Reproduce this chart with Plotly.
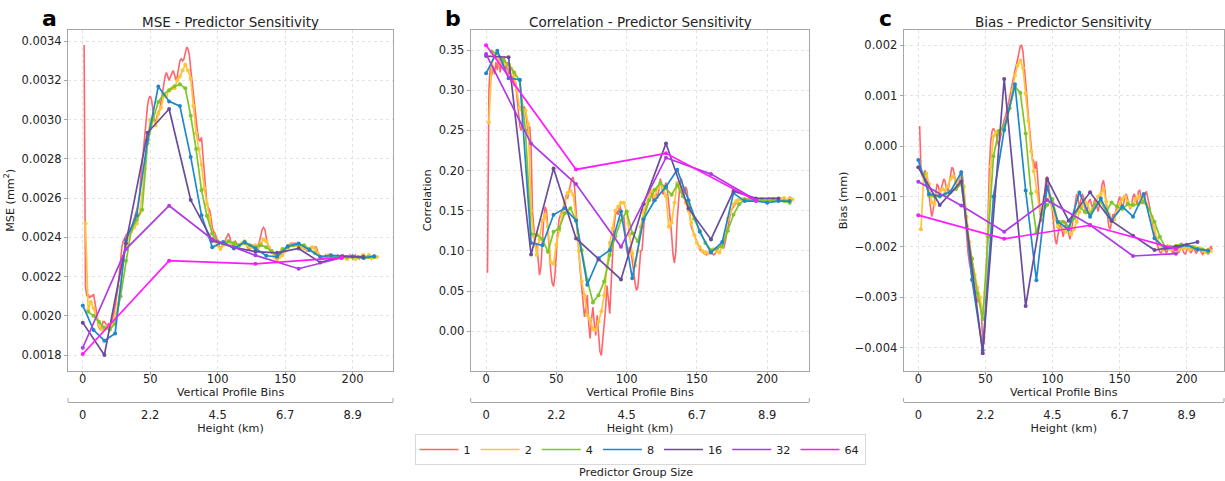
import plotly.graph_objects as go

# ---------------- data ----------------
GROUP_SIZES = [1, 2, 4, 8, 16, 32, 64]
GROUP_LABELS = ["1", "2", "4", "8", "16", "32", "64"]
X_START = [1, 2, 4, 0, 0, 0, 0]
X_END = [219, 218, 216, 216, 208, 192, 192]
HEIGHT_TICKS = [0, 50, 100, 150, 200]
HEIGHT_LABELS = ["0", "2.2", "4.5", "6.7", "8.9"]

MSE_1 = [
    0.00338, 0.00215, 0.00210, 0.00211, 0.00209, 0.00210, 0.00210, 0.00211, 0.00207, 0.00202,
    0.00197, 0.00194, 0.00193, 0.00194, 0.00197, 0.00197, 0.00196, 0.00195, 0.00196, 0.00195,
    0.00196, 0.00198, 0.00201, 0.00205, 0.00209, 0.00214, 0.00221, 0.00229, 0.00235, 0.00238,
    0.00240, 0.00241, 0.00242, 0.00243, 0.00244, 0.00245, 0.00247, 0.00249, 0.00251, 0.00254,
    0.00257, 0.00262, 0.00270, 0.00278, 0.00286, 0.00294, 0.00301, 0.00307, 0.00311, 0.00312,
    0.00310, 0.00304, 0.00300, 0.00299, 0.00302, 0.00304, 0.00305, 0.00309, 0.00314, 0.00319,
    0.00322, 0.00324, 0.00322, 0.00320, 0.00322, 0.00324, 0.00325, 0.00323, 0.00320, 0.00322,
    0.00327, 0.00330, 0.00331, 0.00330, 0.00331, 0.00335, 0.00337, 0.00336, 0.00333, 0.00326,
    0.00319, 0.00312, 0.00306, 0.00300, 0.00294, 0.00290, 0.00289, 0.00291, 0.00282, 0.00270,
    0.00262, 0.00257, 0.00255, 0.00254, 0.00250, 0.00245, 0.00243, 0.00242, 0.00240, 0.00238,
    0.00236, 0.00234, 0.00235, 0.00236, 0.00237, 0.00239, 0.00241, 0.00242, 0.00240, 0.00237,
    0.00236, 0.00237, 0.00238, 0.00237, 0.00236, 0.00235, 0.00236, 0.00237, 0.00238, 0.00238,
    0.00237, 0.00235, 0.00234, 0.00234, 0.00235, 0.00236, 0.00235, 0.00234, 0.00235, 0.00236,
    0.00238, 0.00241, 0.00244, 0.00245, 0.00244, 0.00240, 0.00236, 0.00234, 0.00233, 0.00232,
    0.00232, 0.00231, 0.00229, 0.00228, 0.00229, 0.00230, 0.00231, 0.00232, 0.00233, 0.00234,
    0.00235, 0.00236, 0.00236, 0.00237, 0.00237, 0.00237, 0.00237, 0.00237, 0.00236, 0.00236,
    0.00236, 0.00235, 0.00235, 0.00234, 0.00234, 0.00233, 0.00233, 0.00234, 0.00235, 0.00235,
    0.00235, 0.00235, 0.00235, 0.00233, 0.00231, 0.00230, 0.00230, 0.00229, 0.00230, 0.00231,
    0.00230, 0.00229, 0.00230, 0.00231, 0.00230, 0.00229, 0.00230, 0.00230, 0.00231, 0.00230,
    0.00229, 0.00230, 0.00231, 0.00230, 0.00229, 0.00230, 0.00230, 0.00231, 0.00230, 0.00229,
    0.00230, 0.00231, 0.00230, 0.00230, 0.00229, 0.00230, 0.00231, 0.00230, 0.00229, 0.00230,
    0.00230, 0.00231, 0.00230, 0.00229, 0.00230, 0.00231, 0.00230, 0.00230, 0.00230,
]
MSE_2 = [
    0.00247, 0.00203, 0.00207, 0.00204, 0.00199, 0.00195, 0.00193, 0.00193, 0.00194, 0.00193,
    0.00196, 0.00199, 0.00206, 0.00215, 0.00228, 0.00236, 0.00240, 0.00243, 0.00245, 0.00247,
    0.00252, 0.00262, 0.00275, 0.00290, 0.00300, 0.00301, 0.00297, 0.00303, 0.00306, 0.00312,
    0.00312, 0.00315, 0.00316, 0.00316, 0.00320, 0.00322, 0.00325, 0.00328, 0.00325, 0.00321,
    0.00307, 0.00293, 0.00285, 0.00277, 0.00265, 0.00257, 0.00250, 0.00242, 0.00238, 0.00236,
    0.00234, 0.00236, 0.00237, 0.00238, 0.00237, 0.00237, 0.00236, 0.00236, 0.00237, 0.00238,
    0.00236, 0.00235, 0.00235, 0.00236, 0.00235, 0.00237, 0.00239, 0.00238, 0.00235, 0.00233,
    0.00230, 0.00229, 0.00230, 0.00231, 0.00233, 0.00235, 0.00236, 0.00236, 0.00236, 0.00236,
    0.00235, 0.00235, 0.00234, 0.00234, 0.00235, 0.00234, 0.00232, 0.00230, 0.00230, 0.00230,
    0.00231, 0.00230, 0.00230, 0.00230, 0.00230, 0.00230, 0.00230, 0.00229, 0.00230, 0.00230,
    0.00229, 0.00230, 0.00230, 0.00231, 0.00230, 0.00231, 0.00230, 0.00230, 0.00230,
]
MSE_4 = [
    0.00202, 0.00200, 0.00197, 0.00194, 0.00193, 0.00196, 0.00210, 0.00228, 0.00244, 0.00249,
    0.00254, 0.00288, 0.00300, 0.00309, 0.00313, 0.00315, 0.00317, 0.00318, 0.00316, 0.00302,
    0.00285, 0.00264, 0.00251, 0.00242, 0.00238, 0.00237, 0.00238, 0.00237, 0.00236, 0.00237,
    0.00236, 0.00235, 0.00236, 0.00235, 0.00233, 0.00231, 0.00234, 0.00235, 0.00236, 0.00236,
    0.00236, 0.00234, 0.00232, 0.00230, 0.00230, 0.00230, 0.00230, 0.00230, 0.00230, 0.00230,
    0.00230, 0.00230, 0.00230, 0.00230,
]
MSE_8 = [
    0.002053, 0.001927, 0.001873, 0.001910, 0.002386, 0.002513, 0.002896, 0.003169, 0.003093,
    0.003069, 0.002810, 0.002513, 0.002349, 0.002376, 0.002343, 0.002376, 0.002343, 0.002306,
    0.002301, 0.002355, 0.002369, 0.002335, 0.002301, 0.002308, 0.002304, 0.002303, 0.002294,
    0.002304,
]
MSE_16 = [
    0.001965, 0.001800, 0.002370, 0.002933, 0.003054, 0.002590, 0.002383, 0.002349, 0.002327,
    0.002321, 0.002343, 0.002272, 0.002301, 0.002301,
]
MSE_32 = [0.001837, 0.002340, 0.002561, 0.002390, 0.002308, 0.002240, 0.002296]
MSE_64 = [0.001805, 0.002281, 0.002265, 0.002296]

CORR_1 = [
    0.073, 0.300, 0.330, 0.318, 0.330, 0.320, 0.335, 0.325, 0.340, 0.322,
    0.338, 0.330, 0.342, 0.325, 0.335, 0.320, 0.325, 0.310, 0.318, 0.305,
    0.310, 0.290, 0.275, 0.255, 0.250, 0.270, 0.280, 0.275, 0.255, 0.245,
    0.255, 0.230, 0.150, 0.120, 0.105, 0.110, 0.085, 0.070, 0.080, 0.115,
    0.140, 0.155, 0.150, 0.125, 0.098, 0.075, 0.060, 0.056, 0.070, 0.100,
    0.125, 0.140, 0.145, 0.150, 0.155, 0.160, 0.170, 0.165, 0.175, 0.185,
    0.190, 0.192, 0.178, 0.150, 0.120, 0.095, 0.075, 0.055, 0.035, 0.018,
    0.030, 0.045, 0.010, -0.009, 0.015, 0.030, 0.010, -0.005, 0.020, -0.005,
    -0.025, -0.030, -0.012, 0.010, 0.028, 0.057, 0.040, 0.022, 0.060, 0.100,
    0.130, 0.145, 0.150, 0.145, 0.158, 0.150, 0.140, 0.143, 0.120, 0.100,
    0.095, 0.105, 0.100, 0.090, 0.075, 0.060, 0.051, 0.055, 0.080, 0.100,
    0.101, 0.130, 0.150, 0.155, 0.165, 0.170, 0.175, 0.170, 0.160, 0.165,
    0.172, 0.165, 0.178, 0.190, 0.180, 0.170, 0.180, 0.185, 0.175, 0.160,
    0.140, 0.120, 0.095, 0.085, 0.100, 0.140, 0.170, 0.185, 0.190, 0.180,
    0.170, 0.180, 0.175, 0.160, 0.145, 0.130, 0.125, 0.120, 0.115, 0.110,
    0.105, 0.102, 0.100, 0.098, 0.097, 0.096, 0.095, 0.098, 0.100, 0.098,
    0.096, 0.095, 0.097, 0.100, 0.102, 0.105, 0.107, 0.105, 0.103, 0.110,
    0.120, 0.130, 0.140, 0.148, 0.152, 0.155, 0.158, 0.160, 0.162, 0.163,
    0.164, 0.163, 0.165, 0.164, 0.163, 0.165, 0.166, 0.164, 0.163, 0.165,
    0.164, 0.166, 0.165, 0.163, 0.164, 0.166, 0.165, 0.163, 0.164, 0.165,
    0.166, 0.164, 0.163, 0.165, 0.166, 0.164, 0.163, 0.165, 0.166, 0.164,
    0.165, 0.166, 0.164, 0.163, 0.165, 0.167, 0.166, 0.164, 0.165,
]
CORR_2 = [
    0.260, 0.330, 0.345, 0.340, 0.332, 0.338, 0.333, 0.330, 0.327, 0.318,
    0.300, 0.278, 0.270, 0.275, 0.258, 0.150, 0.118, 0.095, 0.115, 0.138,
    0.145, 0.130, 0.086, 0.084, 0.108, 0.125, 0.145, 0.160, 0.172, 0.175,
    0.170, 0.140, 0.100, 0.062, 0.045, 0.020, 0.015, 0.003, 0.002, 0.012,
    0.025, 0.045, 0.080, 0.110, 0.128, 0.150, 0.155, 0.160, 0.160, 0.148,
    0.120, 0.097, 0.082, 0.100, 0.130, 0.150, 0.158, 0.170, 0.175, 0.168,
    0.178, 0.182, 0.178, 0.168, 0.130, 0.135, 0.160, 0.185, 0.180, 0.170,
    0.160, 0.150, 0.135, 0.120, 0.110, 0.105, 0.100, 0.098, 0.097, 0.100,
    0.102, 0.100, 0.098, 0.105, 0.120, 0.140, 0.150, 0.158, 0.162, 0.164,
    0.164, 0.165, 0.163, 0.164, 0.165, 0.163, 0.164, 0.165, 0.163, 0.162,
    0.164, 0.165, 0.163, 0.164, 0.165, 0.166, 0.163, 0.165, 0.164,
]
CORR_4 = [
    0.348, 0.346, 0.338, 0.332, 0.322, 0.312, 0.250, 0.121, 0.120, 0.115,
    0.099, 0.124, 0.128, 0.147, 0.153, 0.138, 0.101, 0.064, 0.036, 0.045,
    0.062, 0.095, 0.118, 0.138, 0.149, 0.122, 0.112, 0.140, 0.163, 0.176,
    0.185, 0.178, 0.170, 0.182, 0.168, 0.160, 0.140, 0.125, 0.110, 0.101,
    0.103, 0.106, 0.125, 0.145, 0.158, 0.164, 0.164, 0.163, 0.163, 0.162,
    0.163, 0.163, 0.162, 0.160,
]
CORR_8 = [
    0.321, 0.349, 0.315, 0.313, 0.110, 0.107, 0.145, 0.153, 0.138, 0.058,
    0.091, 0.101, 0.149, 0.066, 0.139, 0.163, 0.180, 0.201, 0.163, 0.124,
    0.098, 0.111, 0.172, 0.162, 0.162, 0.160, 0.162, 0.162,
]
CORR_16 = [
    0.3425, 0.341, 0.0956, 0.2027, 0.1156, 0.0894, 0.0645, 0.1583, 0.2338, 0.1529,
    0.1143, 0.1745, 0.1654, 0.1654,
]
CORR_32 = [0.345, 0.2338, 0.1832, 0.1052, 0.216, 0.1956, 0.1633]
CORR_64 = [0.356, 0.2014, 0.2214, 0.1625]

BIAS_1 = [
    0.00040, -0.00050, -0.00060, -0.00065, -0.00048, -0.00055, -0.00075, -0.00100, -0.00125, -0.00140,
    -0.00128, -0.00110, -0.00085, -0.00075, -0.00080, -0.00095, -0.00085, -0.00075, -0.00065, -0.00070,
    -0.00085, -0.00090, -0.00075, -0.00055, -0.00042, -0.00045, -0.00060, -0.00075, -0.00085, -0.00075,
    -0.00060, -0.00048, -0.00060, -0.00090, -0.00140, -0.00180, -0.00210, -0.00230, -0.00245, -0.00260,
    -0.00270, -0.00285, -0.00300, -0.00310, -0.00300, -0.00305, -0.00330, -0.00390, -0.00392, -0.00330,
    -0.00230, -0.00130, -0.00040, 0.00010, 0.00030, 0.00035, 0.00030, 0.00025, 0.00010, 0.00000,
    0.00015, 0.00030, 0.00045, 0.00052, 0.00060, 0.00070, 0.00080, 0.00095, 0.00110, 0.00125,
    0.00140, 0.00150, 0.00160, 0.00170, 0.00185, 0.00198, 0.00200, 0.00188, 0.00160, 0.00130,
    0.00095, 0.00060, 0.00030, -0.00005, -0.00025, -0.00030, -0.00045, -0.00030, -0.00060, -0.00100,
    -0.00140, -0.00150, -0.00130, -0.00095, -0.00070, -0.00060, -0.00075, -0.00095, -0.00115, -0.00130,
    -0.00160, -0.00185, -0.00195, -0.00180, -0.00160, -0.00155, -0.00170, -0.00180, -0.00165, -0.00150,
    -0.00160, -0.00175, -0.00185, -0.00170, -0.00150, -0.00135, -0.00115, -0.00095, -0.00105, -0.00120,
    -0.00110, -0.00095, -0.00100, -0.00120, -0.00135, -0.00125, -0.00110, -0.00105, -0.00115, -0.00125,
    -0.00110, -0.00105, -0.00120, -0.00130, -0.00115, -0.00095, -0.00075, -0.00068, -0.00085, -0.00115,
    -0.00140, -0.00160, -0.00165, -0.00150, -0.00135, -0.00140, -0.00130, -0.00115, -0.00105, -0.00100,
    -0.00110, -0.00120, -0.00115, -0.00100, -0.00095, -0.00105, -0.00120, -0.00125, -0.00115, -0.00100,
    -0.00095, -0.00105, -0.00115, -0.00090, -0.00088, -0.00100, -0.00115, -0.00110, -0.00095, -0.00090,
    -0.00100, -0.00115, -0.00130, -0.00145, -0.00160, -0.00175, -0.00185, -0.00195, -0.00205, -0.00210,
    -0.00212, -0.00205, -0.00200, -0.00208, -0.00212, -0.00205, -0.00198, -0.00203, -0.00210, -0.00213,
    -0.00205, -0.00200, -0.00208, -0.00212, -0.00206, -0.00200, -0.00205, -0.00212, -0.00214, -0.00207,
    -0.00200, -0.00205, -0.00212, -0.00208, -0.00202, -0.00206, -0.00213, -0.00209, -0.00203, -0.00207,
    -0.00212, -0.00215, -0.00210, -0.00205, -0.00210, -0.00215, -0.00206, -0.00198, -0.00205,
]
BIAS_2 = [
    -0.00165, -0.00060, -0.00055, -0.00075, -0.00112, -0.00115, -0.00095, -0.00090, -0.00085, -0.00088,
    -0.00080, -0.00065, -0.00060, -0.00070, -0.00075, -0.00062, -0.00080, -0.00140, -0.00190, -0.00225,
    -0.00255, -0.00280, -0.00300, -0.00330, -0.00290, -0.00180, -0.00040, 0.00020, 0.00028, 0.00025,
    0.00030, 0.00035, 0.00050, 0.00075, 0.00110, 0.00140, 0.00160, 0.00170, 0.00155, 0.00105,
    0.00050, -0.00010, -0.00050, -0.00090, -0.00120, -0.00140, -0.00105, -0.00080, -0.00100, -0.00125,
    -0.00145, -0.00160, -0.00150, -0.00165, -0.00170, -0.00160, -0.00175, -0.00165, -0.00150, -0.00130,
    -0.00120, -0.00110, -0.00115, -0.00130, -0.00125, -0.00115, -0.00100, -0.00095, -0.00085, -0.00110,
    -0.00135, -0.00150, -0.00145, -0.00130, -0.00115, -0.00105, -0.00100, -0.00110, -0.00120, -0.00115,
    -0.00105, -0.00100, -0.00110, -0.00105, -0.00115, -0.00125, -0.00140, -0.00165, -0.00185, -0.00195,
    -0.00205, -0.00200, -0.00198, -0.00205, -0.00202, -0.00198, -0.00205, -0.00200, -0.00203, -0.00200,
    -0.00205, -0.00202, -0.00200, -0.00205, -0.00203, -0.00207, -0.00210, -0.00205, -0.00208,
]
BIAS_4 = [
    -0.00055, -0.00098, -0.00100, -0.00100, -0.00095, -0.00092, -0.00085, -0.00075, -0.00160, -0.00223,
    -0.00292, -0.00343, -0.00180, -0.00020, 0.00030, 0.00040, 0.00075, 0.00118, 0.00106, 0.00025,
    -0.00094, -0.00172, -0.00135, -0.00117, -0.00105, -0.00152, -0.00150, -0.00160, -0.00143, -0.00120,
    -0.00130, -0.00135, -0.00116, -0.00110, -0.00130, -0.00112, -0.00120, -0.00125, -0.00115, -0.00117,
    -0.00115, -0.00110, -0.00125, -0.00150, -0.00180, -0.00200, -0.00200, -0.00198, -0.00195, -0.00196,
    -0.00200, -0.00203, -0.00205, -0.00210,
]
BIAS_8 = [
    -0.000275, -0.00095, -0.00099, -0.00090, -0.00052, -0.00265, -0.00405, -0.00100, 0.00032, 0.00123,
    -0.00088, -0.00266, -0.00080, -0.00150, -0.00165, -0.00092, -0.00140, -0.00104, -0.00147, -0.00120,
    -0.00140, -0.00095, -0.00183, -0.00203, -0.00203, -0.00196, -0.00205, -0.00207,
]
BIAS_16 = [
    -0.000421, -0.001168, -0.000700, -0.004111, 0.001332, -0.003172, -0.000652, -0.001479, -0.000917,
    -0.001485, -0.001776, -0.002061, -0.001995, -0.001902,
]
BIAS_32 = [-0.000705, -0.00118, -0.00170, -0.00107, -0.001565, -0.00218, -0.002134]
BIAS_64 = [-0.00137, -0.00184, -0.00157, -0.00204]

PANELS = [
    dict(letter="a", title="MSE - Predictor Sensitivity", ytitle="MSE (mm<sup>2</sup>)",
         series=[MSE_1, MSE_2, MSE_4, MSE_8, MSE_16, MSE_32, MSE_64],
         yrange=[0.00172, 0.003457], tickvals=[0.0018, 0.0020, 0.0022, 0.0024, 0.0026, 0.0028, 0.0030, 0.0032, 0.0034],
         tickformat=".4f"),
    dict(letter="b", title="Correlation - Predictor Sensitivity", ytitle="Correlation",
         series=[CORR_1, CORR_2, CORR_4, CORR_8, CORR_16, CORR_32, CORR_64],
         yrange=[-0.049, 0.3749], tickvals=[0.0, 0.05, 0.10, 0.15, 0.20, 0.25, 0.30, 0.35],
         tickformat=".2f"),
    dict(letter="c", title="Bias - Predictor Sensitivity", ytitle="Bias (mm)",
         series=[BIAS_1, BIAS_2, BIAS_4, BIAS_8, BIAS_16, BIAS_32, BIAS_64],
         yrange=[-0.004456, 0.002304], tickvals=[-0.004, -0.003, -0.002, -0.001, 0.0, 0.001, 0.002],
         tickformat=".3f"),
]

# ---------------- styling ----------------
COLORS = ["rgba(255,80,85,0.88)", "#FFC53A", "#7DC62A", "#1F88CC", "#6A4C9C", "#B03AE6", "#FF1AFF"]
FONT = "DejaVu Sans"
TXT = "#222222"
SPINE = "#a6a6a6"
GRID = "#e3e3e3"

W, H = 1225, 481
TOP = 30          # top of plot areas (px)
PLOT_BOTTOM = 370.7
AX2 = 402         # height axis line (px) = paper bottom
PAPER_H = AX2 - TOP
YDOM0 = (AX2 - PLOT_BOTTOM) / PAPER_H
XRANGE = [-10.95, 229.95]
DOMAINS = [
    [68 / W, 393 / W],
    [470.7 / W, 809.3 / W],
    [903.6 / W, 1224 / W],
]
XRANGES = [XRANGE, XRANGE, [-10.95, 227.8]]
LETTER_X = [50, 453, 885]


def py(pix):
    return (AX2 - pix) / PAPER_H


fig = go.Figure()
layout = dict(
    width=W, height=H,
    margin=dict(l=0, r=0, t=TOP, b=H - AX2, pad=0),
    paper_bgcolor="white", plot_bgcolor="white",
    font=dict(family=FONT, color=TXT, size=11),
    showlegend=True,
    annotations=[], shapes=[],
)

for p, panel in enumerate(PANELS):
    sfx = "" if p == 0 else str(p + 1)
    xa, ya = "x" + sfx, "y" + sfx
    hx = "x" + str(p + 4)
    for gi, g in enumerate(GROUP_SIZES):
        xs = list(range(X_START[gi], X_END[gi] + 1, g))
        ys = panel["series"][gi]
        assert len(xs) == len(ys), (p, g, len(xs), len(ys))
        fig.add_trace(go.Scatter(
            x=xs, y=ys, xaxis=xa, yaxis=ya,
            mode="lines" if g == 1 else "lines+markers",
            line=dict(color=COLORS[gi], width=1.6 if g == 1 else 1.7),
            marker=dict(size=4, color=COLORS[gi]),
            name=GROUP_LABELS[gi], legendgroup=GROUP_LABELS[gi], showlegend=False,
            hoverinfo="skip",
        ))
    # empty trace to realise the height axis subplot
    fig.add_trace(go.Scatter(x=[None], y=[None], xaxis=hx, yaxis=ya, showlegend=False, hoverinfo="skip"))

    layout["xaxis" + sfx] = dict(
        domain=DOMAINS[p], anchor=ya, range=XRANGES[p],
        tickvals=[0, 50, 100, 150, 200], ticks="outside", ticklen=3, tickcolor=SPINE,
        ticklabelstandoff=-6,
        tickfont=dict(size=11.5, family=FONT, color=TXT),
        showline=True, linecolor=SPINE, linewidth=1, mirror=True,
        showgrid=True, gridcolor=GRID, griddash="dot", gridwidth=1, zeroline=False,
        title=dict(text="Vertical Profile Bins", font=dict(size=11.2, family=FONT, color=TXT), standoff=3),
    )
    layout["yaxis" + sfx] = dict(
        domain=[YDOM0, 1], anchor=xa, range=panel["yrange"],
        tickvals=panel["tickvals"], tickformat=panel["tickformat"],
        ticks="outside", ticklen=3, tickcolor=SPINE,
        tickfont=dict(size=11.5, family=FONT, color=TXT),
        showline=True, linecolor=SPINE, linewidth=1, mirror=True,
        showgrid=True, gridcolor=GRID, griddash="dot", gridwidth=1, zeroline=False,
        title=dict(text=panel["ytitle"], font=dict(size=11.2, family=FONT, color=TXT), standoff=4),
    )
    layout["xaxis" + str(p + 4)] = dict(
        overlaying=xa, anchor="free", position=0, side="bottom", range=XRANGES[p],
        tickvals=HEIGHT_TICKS, ticktext=HEIGHT_LABELS, ticks="",
        ticklabelstandoff=2,
        tickfont=dict(size=11.5, family=FONT, color=TXT),
        showline=True, linecolor=SPINE, linewidth=1, showgrid=False, zeroline=False,
        title=dict(text="Height (km)", font=dict(size=11.2, family=FONT, color=TXT), standoff=3),
    )
    for xd in (0, 1):
        layout["shapes"].append(dict(
            type="line", xref=xa + " domain", yref="paper", x0=xd, x1=xd, y0=0, y1=4 / PAPER_H,
            line=dict(color=SPINE, width=1),
        ))
    layout["annotations"].append(dict(
        text=panel["title"], xref=xa + " domain", yref="paper", x=0.5, y=py(22),
        showarrow=False, xanchor="center", yanchor="middle",
        font=dict(size=13.5, family=FONT, color=TXT),
    ))
    layout["annotations"].append(dict(
        text="<b>" + panel["letter"] + "</b>", xref="paper", yref="paper",
        x=LETTER_X[p] / W, y=py(18), showarrow=False, xanchor="center", yanchor="middle",
        font=dict(size=22, family=FONT, color="#000000"),
    ))

# legend entries (lines only)
for gi, g in enumerate(GROUP_SIZES):
    fig.add_trace(go.Scatter(
        x=[None], y=[None], mode="lines", line=dict(color=COLORS[gi], width=1.6),
        name=GROUP_LABELS[gi], legendgroup=GROUP_LABELS[gi], showlegend=True,
    ))

layout["legend"] = dict(
    orientation="h", x=640 / W, xanchor="center", y=py(434), yanchor="top",
    bgcolor="white", bordercolor="#d9d9d9", borderwidth=1,
    font=dict(size=11.2, family=FONT, color=TXT), itemwidth=39,
)
layout["annotations"].append(dict(
    text="Predictor Group Size", xref="paper", yref="paper", x=636 / W, y=py(472),
    showarrow=False, xanchor="center", yanchor="middle",
    font=dict(size=11.2, family=FONT, color=TXT),
))

fig.update_layout(**layout)
fig.write_html("out.html")
